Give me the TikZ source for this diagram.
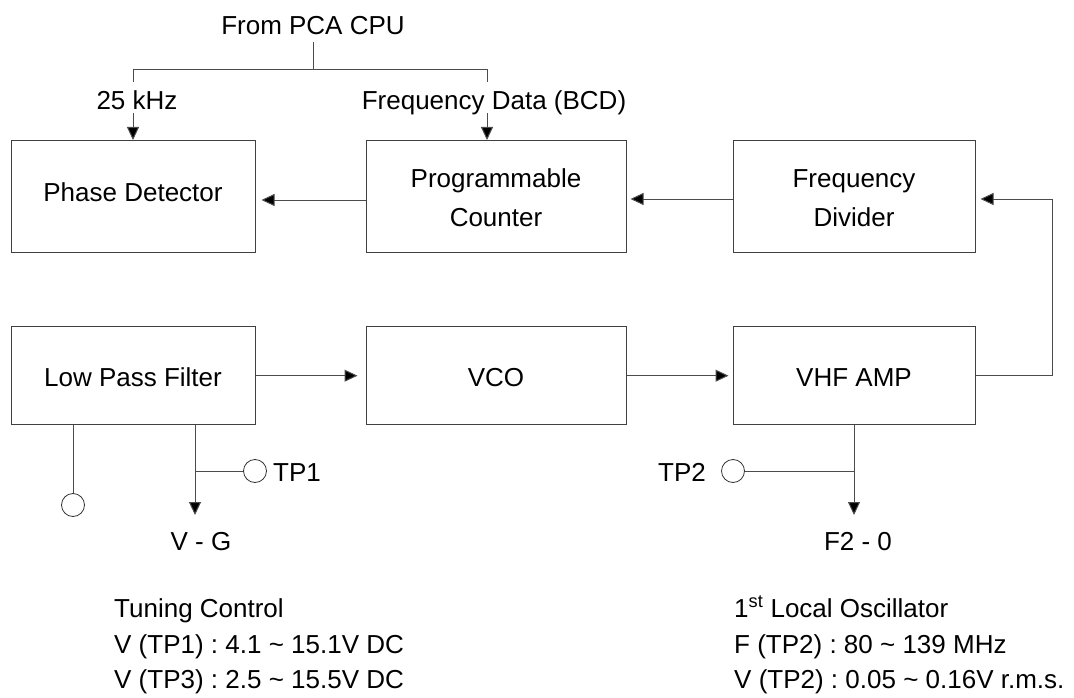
\documentclass[tikz,border=0pt]{standalone}
\usepackage{fontspec}
\setmainfont{Liberation Sans}
\usetikzlibrary{arrows.meta}
\frenchspacing
\begin{document}
\begin{tikzpicture}[x=1pt,y=-1pt,
  font=\fontsize{26}{38}\selectfont\frenchspacing,
  blk/.style={draw=black!75,line width=1pt,inner sep=0pt,align=center},
  wire/.style={draw=black!70,line width=1pt},
  arr/.style={wire,-{Triangle[length=13pt,width=12pt,fill=black]}},
  tp/.style={circle,draw=black!80,line width=0.8pt,minimum size=23pt,inner sep=0pt},
  lbl/.style={inner sep=0pt,anchor=base},
  note/.style={inner sep=0pt,anchor=base west}]
\useasboundingbox (0,0) rectangle (1074,698);
% blocks
\node[blk,minimum width=244pt,minimum height=112pt] (pd) at (133,196.5) {};
\node[blk,minimum width=260pt,minimum height=112pt] (pc) at (496,196.5) {};
\node[blk,minimum width=242pt,minimum height=112pt] (fd) at (854,196.5) {};
\node[blk,minimum width=244pt,minimum height=98pt] (lpf) at (133,375.7) {};
\node[blk,minimum width=260pt,minimum height=98pt] (vco) at (496,375.7) {};
\node[blk,minimum width=242pt,minimum height=98pt] (vhf) at (854,375.7) {};
\node[lbl] (pdt) at (133,201) {Phase Detector};
\node[lbl] (pct1) at (496,188) {Programmable};
\node[lbl] (pct2) at (496,226) {Counter};
\node[lbl] (fdt1) at (854,188) {Frequency};
\node[lbl] (fdt2) at (854,226) {Divider};
\node[lbl] (lpft) at (133,386) {Low Pass Filter};
\node[lbl] (vcot) at (496,386) {VCO};
\node[lbl] (vhft) at (854,386) {VHF AMP};
% top inputs
\node[lbl] (cpu) at (313,34.5) {From PCA CPU};
\coordinate (cpub) at (313,42);
\coordinate (jn) at (313,70);
\coordinate (jl) at (133,70);
\coordinate (jr) at (487,70);
\node[lbl] (khz) at (137,109.5) {25 kHz};
\node[lbl] (bcd) at (494,109.5) {Frequency Data (BCD)};
\coordinate (jl2) at (133,82);
\coordinate (jl3) at (133,113);
\coordinate (jr2) at (487,82);
\coordinate (jr3) at (487,113);
\draw[wire] (cpub) -- (jn);
\draw[wire] (jl2) -- (jl) -- (jr) -- (jr2);
\draw[arr] (jl3) -- (jl3 |- pd.north);
\draw[arr] (jr3) -- (jr3 |- pc.north);
% top row arrows
\coordinate (pcw) at ([yshift=-3.5pt]pc.west);
\coordinate (fdw) at ([yshift=-2.5pt]fd.west);
\coordinate (fde) at ([yshift=-2.5pt]fd.east);
\draw[arr,shorten >=6pt] (pcw) -- (pcw -| pd.east);
\draw[arr,shorten >=4pt] (fdw) -- (fdw -| pc.east);
% feedback
\coordinate (fb) at (1052,375.7);
\draw[arr,shorten >=5pt] (vhf.east) -- (fb) -- (fb |- fde) -- (fde);
% bottom row arrows
\draw[arr,shorten >=8pt] (lpf.east) -- (vco.west);
\draw[arr,shorten >=4pt] (vco.east) -- (vhf.west);
% LPF outputs
\node[tp] (tp3) at (73,505) {};
\draw[wire] (tp3.north |- lpf.south) -- (tp3.north);
\coordinate (lo) at (195,424.7);
\coordinate (vgo) at (195,515);
\coordinate (br1) at (195,471);
\draw[arr] (lo) -- (vgo);
\node[tp] (tp1) at (255,471) {};
\draw[wire] (br1) -- (tp1.west);
\node[lbl] (tp1l) at (297,481) {TP1};
\node[lbl] (vg) at (201,550.5) {V - G};
% VHF outputs
\coordinate (vo) at (854,515);
\coordinate (br2) at (854,471);
\draw[arr] (vhf.south) -- (vo);
\node[tp] (tp2) at (733,471) {};
\draw[wire] (br2) -- (tp2.east);
\node[lbl] (tp2l) at (682,481) {TP2};
\node[lbl] (f2) at (858,550.5) {F2 - 0};
% notes
\node[note] (n1) at (114,617) {Tuning Control};
\node[note] (n2) at (114,653) {V (TP1) : 4.1 \textasciitilde{} 15.1V DC};
\node[note] (n3) at (114,688) {V (TP3) : 2.5 \textasciitilde{} 15.5V DC};
\node[note] (m1) at (734,617) {1\textsuperscript{st} Local Oscillator};
\node[note] (m2) at (734,653) {F (TP2) : 80 \textasciitilde{} 139 MHz};
\node[note] (m3) at (734,688) {V (TP2) : 0.05 \textasciitilde{} 0.16V r.m.s.};
\end{tikzpicture}
\end{document}
